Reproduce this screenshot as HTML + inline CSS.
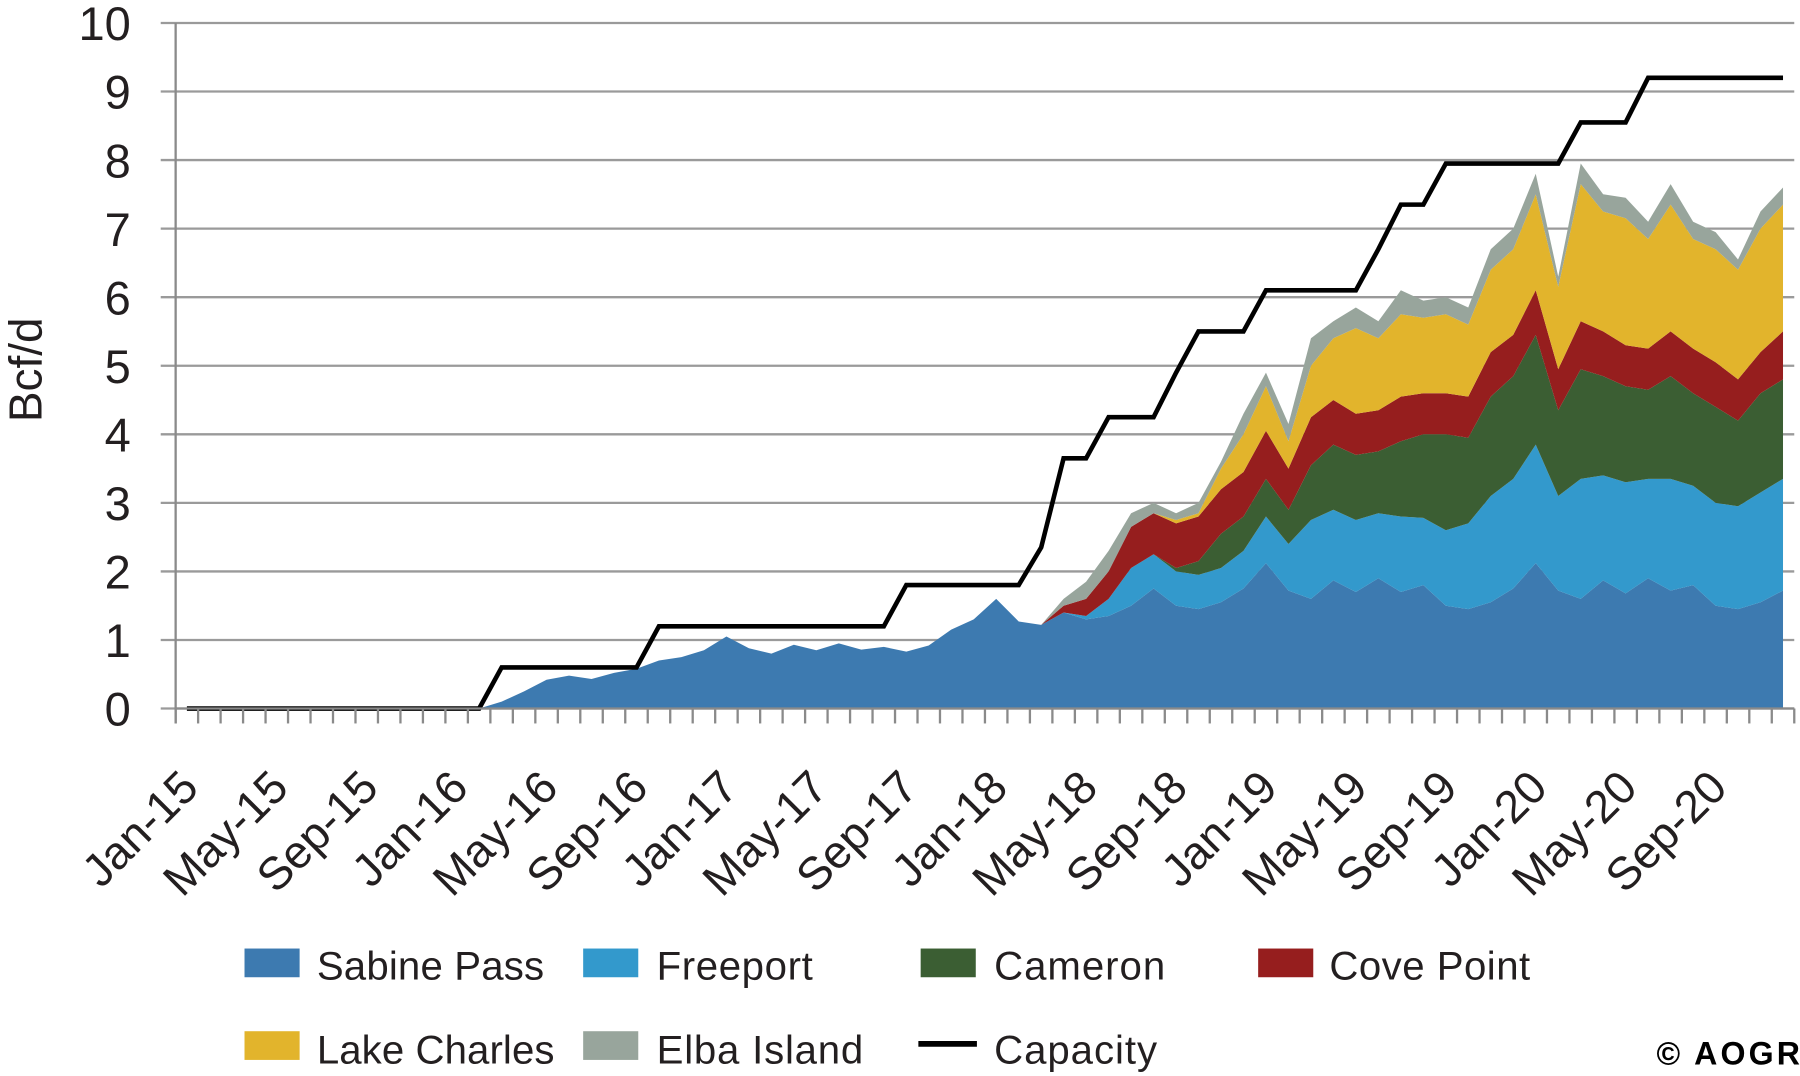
<!DOCTYPE html>
<html><head><meta charset="utf-8"><style>
html,body{margin:0;padding:0;background:#fff;}
svg{display:block;font-family:"Liberation Sans",sans-serif;}
</style></head><body>
<svg id="chart" width="1800" height="1076" viewBox="0 0 1568 937" preserveAspectRatio="none" xmlns="http://www.w3.org/2000/svg">
<g id="grid"></g>
<g id="areas"></g>
<g id="axes"></g>
<text transform="translate(36,322) rotate(-90)" text-anchor="middle" font-size="40" fill="#231f20">Bcf/d</text>
<g font-size="35" fill="#231f20">
 <g><rect x="213" y="826" width="48" height="25" fill="#3d7ab0"/><text x="276" y="853" textLength="198">Sabine Pass</text></g>
 <g><rect x="508" y="826" width="48" height="25" fill="#3399cc"/><text x="572" y="853" textLength="136">Freeport</text></g>
 <g><rect x="802" y="826" width="48" height="25" fill="#3b5e33"/><text x="866" y="853" textLength="149">Cameron</text></g>
 <g><rect x="1096" y="826" width="48" height="25" fill="#961e1e"/><text x="1158" y="853" textLength="175">Cove Point</text></g>
 <g><rect x="213" y="898" width="48" height="25" fill="#e2b42c"/><text x="276" y="926" textLength="207">Lake Charles</text></g>
 <g><rect x="508" y="898" width="48" height="25" fill="#98a59c"/><text x="572" y="926" textLength="180">Elba Island</text></g>
 <g><line x1="800" y1="909" x2="851" y2="909" stroke="#000" stroke-width="5"/><text x="866" y="926" textLength="142">Capacity</text></g>
</g>
<text x="1443" y="927" font-size="28" font-weight="bold" fill="#000" textLength="125">© AOGR</text>
</svg>
<script>
const months = ["Jan-15","May-15","Sep-15","Jan-16","May-16","Sep-16","Jan-17","May-17","Sep-17","Jan-18","May-18","Sep-18","Jan-19","May-19","Sep-19","Jan-20","May-20","Sep-20"];
const yTicks = [0,1,2,3,4,5,6,7,8,9,10];
const sabine = [0,0,0,0,0,0,0,0,0,0,0,0,0,0,0.1,0.25,0.42,0.48,0.43,0.52,0.58,0.7,0.75,0.85,1.05,0.88,0.8,0.93,0.85,0.95,0.86,0.9,0.83,0.92,1.15,1.3,1.6,1.27,1.22,1.4,1.3,1.35,1.5,1.75,1.5,1.45,1.55,1.75,2.12,1.72,1.6,1.87,1.7,1.9,1.7,1.8,1.5,1.45,1.55,1.75,2.12,1.72,1.6,1.87,1.68,1.9,1.72,1.8,1.5,1.45,1.55,1.72];
const freeport = [0,0,0,0,0,0,0,0,0,0,0,0,0,0,0,0,0,0,0,0,0,0,0,0,0,0,0,0,0,0,0,0,0,0,0,0,0,0,0,0,0.05,0.25,0.55,0.5,0.5,0.5,0.5,0.55,0.68,0.68,1.15,1.03,1.05,0.95,1.1,0.98,1.1,1.25,1.55,1.6,1.73,1.38,1.75,1.53,1.62,1.45,1.63,1.45,1.5,1.5,1.6,1.63];
const cameron = [0,0,0,0,0,0,0,0,0,0,0,0,0,0,0,0,0,0,0,0,0,0,0,0,0,0,0,0,0,0,0,0,0,0,0,0,0,0,0,0,0,0,0,0,0.05,0.2,0.5,0.5,0.55,0.5,0.8,0.95,0.95,0.9,1.1,1.22,1.4,1.25,1.45,1.5,1.6,1.25,1.6,1.45,1.4,1.3,1.5,1.35,1.4,1.25,1.45,1.45];
const covePoint = [0,0,0,0,0,0,0,0,0,0,0,0,0,0,0,0,0,0,0,0,0,0,0,0,0,0,0,0,0,0,0,0,0,0,0,0,0,0,0,0.1,0.25,0.4,0.6,0.6,0.65,0.65,0.65,0.65,0.7,0.6,0.7,0.65,0.6,0.6,0.65,0.6,0.6,0.6,0.65,0.6,0.65,0.6,0.7,0.65,0.6,0.6,0.65,0.65,0.65,0.6,0.6,0.7];
const lakeCharles = [0,0,0,0,0,0,0,0,0,0,0,0,0,0,0,0,0,0,0,0,0,0,0,0,0,0,0,0,0,0,0,0,0,0,0,0,0,0,0,0,0,0,0,0,0.05,0.05,0.3,0.55,0.65,0.4,0.75,0.9,1.25,1.05,1.2,1.1,1.15,1.05,1.2,1.25,1.4,1.2,2.0,1.75,1.85,1.6,1.85,1.6,1.65,1.6,1.8,1.85];
const elbaIsland = [0,0,0,0,0,0,0,0,0,0,0,0,0,0,0,0,0,0,0,0,0,0,0,0,0,0,0,0,0,0,0,0,0,0,0,0,0,0,0,0.1,0.25,0.3,0.2,0.15,0.1,0.15,0.1,0.3,0.2,0.25,0.4,0.25,0.3,0.25,0.35,0.25,0.25,0.25,0.3,0.3,0.3,0.15,0.3,0.25,0.3,0.25,0.3,0.25,0.25,0.15,0.25,0.25];
const capacity = [0,0,0,0,0,0,0,0,0,0,0,0,0,0,0.6,0.6,0.6,0.6,0.6,0.6,0.6,1.2,1.2,1.2,1.2,1.2,1.2,1.2,1.2,1.2,1.2,1.2,1.8,1.8,1.8,1.8,1.8,1.8,2.35,3.65,3.65,4.25,4.25,4.25,4.9,5.5,5.5,5.5,6.1,6.1,6.1,6.1,6.1,6.7,7.35,7.35,7.95,7.95,7.95,7.95,7.95,7.95,8.55,8.55,8.55,9.2,9.2,9.2,9.2,9.2,9.2,9.2];

const NS="http://www.w3.org/2000/svg";
const N=72, X0=153, X1=1563, Y0=617, Y10=20;
const band=(X1-X0)/N;
const xS=i=>X0+band*(i+0.5);
const yS=v=>Y0-(Y0-Y10)*v/10;
function mk(t,p,a){const e=document.createElementNS(NS,t);for(const k in a)e.setAttribute(k,a[k]);p.appendChild(e);return e;}
const grid=document.getElementById('grid'), axes=document.getElementById('axes'), areas=document.getElementById('areas');
yTicks.forEach(v=>{
  const l=mk('line',grid,{x1:140,x2:X1,y1:yS(v),y2:yS(v),stroke:'#9a9a9a','stroke-width':2});
  
  
  const t=mk('text',axes,{x:114,y:yS(v)+15,'text-anchor':'end','font-size':41,fill:'#231f20'});
  t.textContent=v;
  
  
});
const series=[[sabine,'#3d7ab0','sabine-pass'],[freeport,'#3399cc','freeport'],[cameron,'#3b5e33','cameron'],[covePoint,'#961e1e','cove-point'],[lakeCharles,'#e2b42c','lake-charles'],[elbaIsland,'#98a59c','elba-island']];
let base=new Array(N).fill(0);
series.forEach(([vals,col,name])=>{
  const top=base.map((b,i)=>b+vals[i]);
  let d='';
  for(let i=0;i<N;i++)d+=(i?'L':'M')+xS(i).toFixed(1)+','+yS(top[i]).toFixed(1);
  for(let i=N-1;i>=0;i--)d+='L'+xS(i).toFixed(1)+','+yS(base[i]).toFixed(1);
  const p=mk('path',areas,{d:d+'Z',fill:col});
  
  
  base=top;
});
let cd='';
capacity.forEach((v,i)=>{cd+=(i?'L':'M')+xS(i).toFixed(1)+','+yS(v).toFixed(1);});
const cl=mk('path',areas,{d:cd,fill:'none',stroke:'#000','stroke-width':4,'stroke-linejoin':'miter'});


const ya=mk('line',axes,{x1:X0,x2:X0,y1:Y10,y2:630,stroke:'#8a8a8a','stroke-width':2});


const xa=mk('line',axes,{x1:X0,x2:X1,y1:Y0,y2:Y0,stroke:'#8a8a8a','stroke-width':2});


for(let i=0;i<=N;i++){
  const tk=mk('line',axes,{x1:X0+band*i,x2:X0+band*i,y1:Y0,y2:630,stroke:'#8a8a8a','stroke-width':2});
  
  
}
months.forEach((m,k)=>{
  const x=xS(k*4)+12, y=688;
  const t=mk('text',axes,{x:x,y:y,'text-anchor':'end','font-size':40,fill:'#231f20',transform:`rotate(-45 ${x} ${y})`});
  t.textContent=m;
  
  
});
</script>
</body></html>
